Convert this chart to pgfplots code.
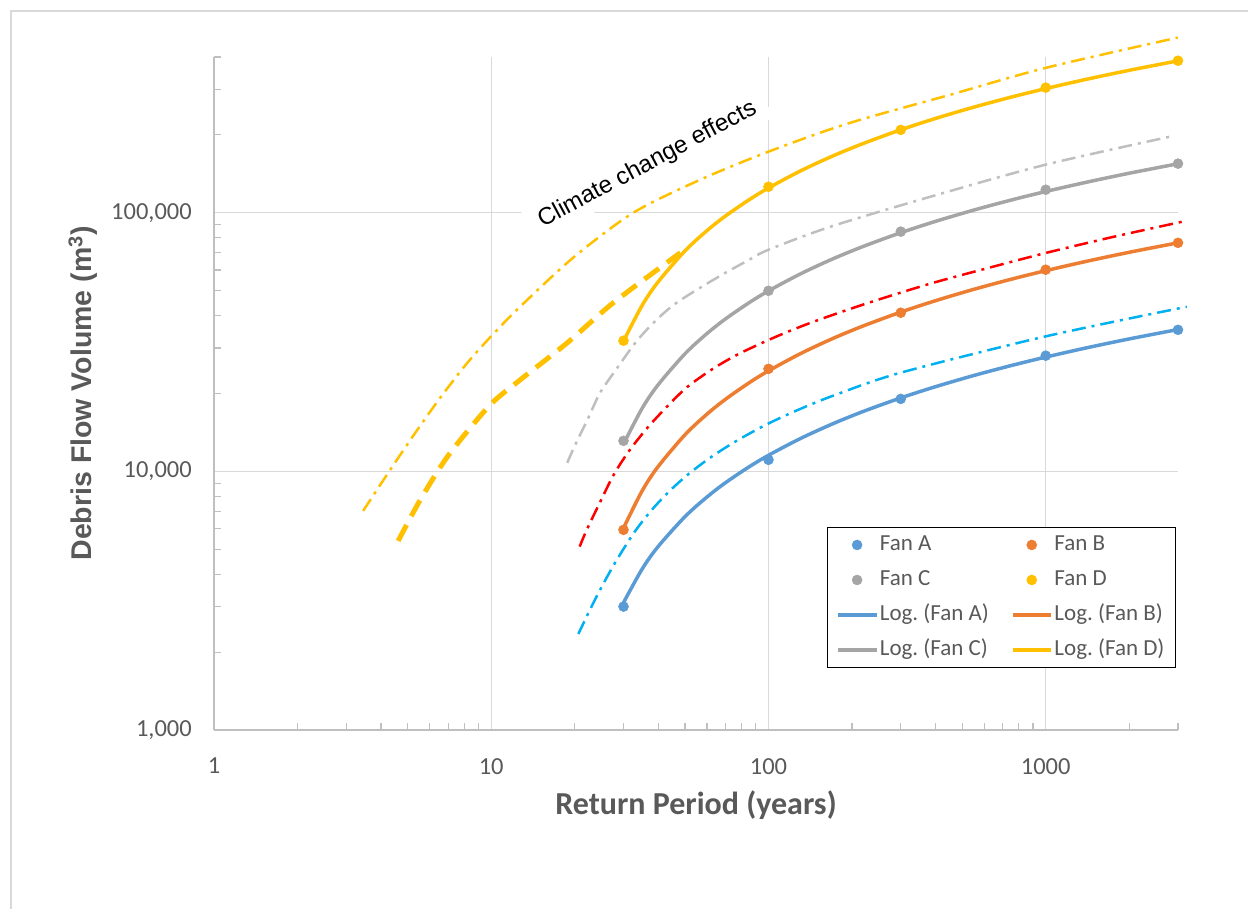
\documentclass[border=0pt]{standalone}
\usepackage{pgfplots}
\pgfplotsset{compat=1.18}
\usepackage{fontspec}
\setmainfont{Carlito}
\newfontfamily\arial{Liberation Sans}
\definecolor{txt}{HTML}{595959}
\definecolor{fanA}{HTML}{5B9BD5}
\definecolor{fanB}{HTML}{ED7D31}
\definecolor{fanC}{HTML}{A5A5A5}
\definecolor{fanD}{HTML}{FFC000}
\definecolor{ccA}{HTML}{00B0F0}
\definecolor{ccB}{HTML}{FF0000}
\definecolor{ccC}{HTML}{BFBFBF}
\definecolor{gridc}{HTML}{D9D9D9}
\definecolor{axc}{HTML}{BFBFBF}
\begin{document}
\begin{tikzpicture}[x=1pt,y=1pt]
\useasboundingbox (0,0) rectangle (1248,909);
\draw[gridc, line width=1.5pt] (11,0) -- (11,898) -- (1248,898);
\begin{axis}[
  at={(214pt,179pt)}, anchor=south west, scale only axis,
  width=964pt, height=673pt,
  xmode=log, ymode=log, xmin=1, xmax=3000, ymin=1000, ymax=400000,
  axis x line*=bottom, axis y line*=left,
  axis line style={axc, line width=1.5pt},
  xtick={1,10,100,1000}, xticklabels={1,10,100,1000},
  ytick={1000,10000,100000}, yticklabels={{1,000},{10,000},{100,000}},
  minor xtick={2,3,4,5,6,7,8,9,20,30,40,50,60,70,80,90,200,300,400,500,600,700,800,900,2000,3000},
  minor ytick={2000,3000,4000,5000,6000,7000,8000,9000,20000,30000,40000,50000,60000,70000,80000,90000,200000,300000,400000},
  grid=major, major grid style={gridc, line width=1.2pt},
  tick align=inside, major tick length=0pt, minor tick length=7pt,
  tick style={axc, line width=1.2pt},
  ticklabel style={font=\fontsize{24.5}{29}\selectfont, text=txt},
  /pgf/number format/assume math mode=true,
  xticklabel style={inner sep=0pt, yshift=-28pt},
  yticklabel style={inner sep=0pt, xshift=-22pt},
  xlabel={Return Period (years)},
  ylabel={Debris Flow Volume (m\textsuperscript{3})},
  xlabel style={at={(axis description cs:0.5,-0.1114)}, anchor=center, font=\fontsize{32}{38}\selectfont\bfseries, text=txt},
  ylabel style={at={(axis description cs:-0.1359,0.5)}, anchor=center, font=\arial\fontsize{28.5}{34}\selectfont\bfseries, text=txt},
  clip=false,
  legend columns=2, legend cell align=left,
  legend style={at={(rel axis cs:0.998,0.092)}, anchor=south east, draw=black, line width=1.2pt, fill=white,
    font=\fontsize{23}{27}\selectfont, text=txt,
    nodes={inner xsep=2pt, inner ysep=2pt, text height=17pt, text depth=5pt},
    /tikz/every even column/.append style={column sep=20pt},
    inner xsep=9pt, inner ysep=4.5pt, row sep=9pt},
  legend image code/.code={\draw[mark repeat=2,mark phase=2,#1] plot coordinates {(0pt,0pt)(19pt,0pt)(38pt,0pt)};},
]
\node[rotate=28, fill=white, inner xsep=12pt, inner ysep=6pt, font=\arial\fontsize{24}{29}\selectfont, text=black] at (axis cs:36.6,153400) {Climate change effects};

% data points
\addplot[only marks, mark=*, mark size=5pt, mark options={fill=fanA, draw=fanA, line width=0.5pt}] coordinates {(30,3000)(100,11080)(300,19060)(1000,28000)(3000,35250)};
\addlegendentry{Fan A}
\addplot[only marks, mark=*, mark size=5pt, mark options={fill=fanB, draw=fanB, line width=0.5pt}] coordinates {(30,5940)(100,24900)(300,41050)(1000,60200)(3000,76500)};
\addlegendentry{Fan B}
\addplot[only marks, mark=*, mark size=5pt, mark options={fill=fanC, draw=fanC, line width=0.5pt}] coordinates {(30,13120)(100,49900)(300,84500)(1000,122700)(3000,154800)};
\addlegendentry{Fan C}
\addplot[only marks, mark=*, mark size=5pt, mark options={fill=fanD, draw=fanD, line width=0.5pt}] coordinates {(30,32000)(100,126000)(300,209000)(1000,304600)(3000,387000)};
\addlegendentry{Fan D}

% logarithmic trend lines
\addplot[fanA, line width=3.5pt, no marks, smooth] coordinates {(30,3108)(35,4187)(40,5122)(50,6684)(60,7960)(70,9040)(85,10399)(100,11536)(130,13373)(170,15251)(220,17055)(300,19227)(400,21241)(550,23469)(750,25641)(1000,27655)(1400,30009)(2000,32506)(3000,35345)};
\addlegendentry{Log.\ (Fan A)}
\addplot[fanB, line width=3.5pt, no marks, smooth] coordinates {(30,6038)(35,8396)(40,10440)(50,13854)(60,16643)(70,19002)(85,21973)(100,24460)(130,28473)(170,32578)(220,36522)(300,41268)(400,45670)(550,50541)(750,55288)(1000,59689)(1400,64836)(2000,70294)(3000,76498)};
\addlegendentry{Log.\ (Fan B)}
\addplot[fanC, line width=3.5pt, no marks, smooth] coordinates {(30,12757)(35,17503)(40,21618)(50,28490)(60,34104)(70,38854)(85,44835)(100,49840)(130,57919)(170,66183)(220,74123)(300,83677)(400,92538)(550,102345)(750,111899)(1000,120760)(1400,131121)(2000,142108)(3000,154597)};
\addlegendentry{Log.\ (Fan C)}
\addplot[fanD, line width=3.5pt, no marks, smooth] coordinates {(30,31892)(35,43758)(40,54045)(50,71224)(60,85261)(70,97135)(85,112088)(100,124600)(130,144798)(170,165457)(220,185307)(300,209193)(400,231346)(550,255862)(750,279748)(1000,301901)(1400,327803)(2000,355269)(3000,386493)};
\addlegendentry{Log.\ (Fan D)}

% climate change curves
\addplot[forget plot, ccA, line width=2.5pt, smooth, dash pattern=on 14pt off 6pt on 3pt off 6pt] coordinates {(20.61,2351)(23.74,3209)(27.57,4317)(32.56,5741)(37.5,6990)(43.55,8310)(51.43,9754)(62.8,11450)(77.95,13250)(100,15310)(130.5,17450)(174.6,19770)(299.6,24060)(1000,33260)(3230,43290)};
\addplot[forget plot, ccB, line width=2.5pt, smooth, dash pattern=on 14pt off 6pt on 3pt off 6pt] coordinates {(20.84,5118)(22.16,5976)(24.75,7641)(27.64,9694)(31.31,11930)(36.49,14690)(43.09,17810)(50.87,21170)(62.8,24850)(77.3,28280)(100,32200)(123.1,35370)(154.1,38760)(233.5,45100)(384.5,53220)(633,61490)(1008,70030)(1761,80740)(3228,93110)};
\addplot[forget plot, ccC, line width=2.5pt, smooth, dash pattern=on 14pt off 6pt on 3pt off 6pt] coordinates {(18.8,10790)(20.1,12680)(22.4,16100)(24.7,20130)(28.5,25140)(33.1,31410)(38.5,37540)(46.6,44850)(65.5,56240)(84,65220)(100,71900)(167.5,88300)(384,115300)(1000,153400)(2924,198600)};
\addplot[forget plot, fanD, line width=2.5pt, smooth, dash pattern=on 14pt off 6pt on 3pt off 6pt] coordinates {(3.45,7034)(4.32,10130)(5.32,14090)(6.545,19250)(8.26,26520)(10.51,35270)(13.27,45260)(19.94,67580)(32.56,100000)(56.8,134200)(100,172200)(192.9,221000)(454,286100)(1008,363900)(2996,475300)};
\addplot[forget plot, fanD, line width=5pt, smooth, dash pattern=on 18pt off 10pt] coordinates {(4.616,5384)(5.544,7757)(6.823,11080)(8.40,14730)(10.17,18570)(12.72,22590)(18.81,31410)(27.57,44860)(48.12,70030)};
\end{axis}
\end{tikzpicture}
\end{document}
